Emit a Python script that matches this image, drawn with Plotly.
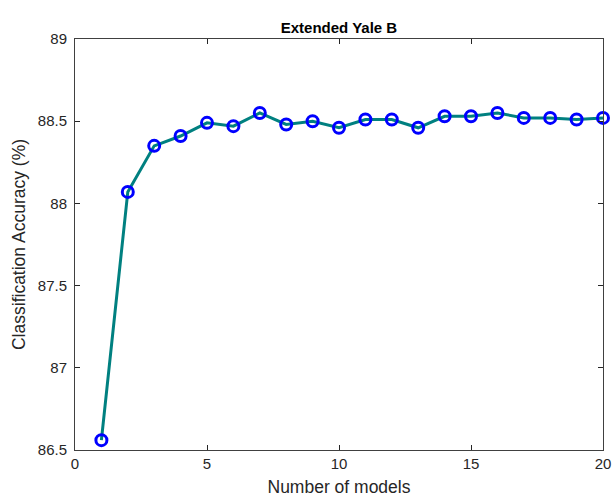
import plotly.graph_objects as go

models = list(range(1, 21))
accuracy = [86.56, 88.07, 88.35, 88.41, 88.49, 88.47, 88.55, 88.48, 88.50, 88.46,
            88.51, 88.51, 88.46, 88.53, 88.53, 88.55, 88.52, 88.52, 88.51, 88.52]
x_ticks = [0, 5, 10, 15, 20]
y_ticks = [86.5, 87, 87.5, 88, 88.5, 89]
y_tick_text = ["86.5", "87", "87.5", "88", "88.5", "89"]

FONT = "Liberation Sans, Arial, sans-serif"

fig = go.Figure()
fig.add_trace(go.Scatter(
    x=models, y=accuracy, mode="lines+markers",
    line=dict(color="#008080", width=3),
    marker=dict(symbol="circle-open", size=11, color="#0000ff", line=dict(width=3, color="#0000ff")),
    showlegend=False, cliponaxis=False,
))

axis_common = dict(
    showgrid=False, zeroline=False, showline=True, linecolor="#404040", linewidth=1,
    mirror="ticks", ticks="inside", ticklen=5, tickcolor="#262626", automargin=False,
    tickfont=dict(family=FONT, size=15, color="#262626"),
)
fig.update_xaxes(range=[0, 20], tickvals=x_ticks,
                 title=dict(text="Number of models", standoff=11,
                            font=dict(family=FONT, size=17.5, color="#262626")),
                 **axis_common)
fig.update_yaxes(range=[86.5, 89], tickvals=y_ticks, ticktext=y_tick_text,
                 ticklabelstandoff=4,
                 title=dict(text="Classification Accuracy (%)", standoff=7,
                            font=dict(family=FONT, size=17.5, color="#262626")),
                 **axis_common)
fig.update_layout(
    width=614, height=497,
    margin=dict(l=75, r=11, t=39, b=47),
    plot_bgcolor="white", paper_bgcolor="white",
    title=dict(text="<b>Extended Yale B</b>", x=0.5, xanchor="center", xref="paper",
               y=1, yref="paper", yanchor="bottom", pad=dict(b=6),
               font=dict(family=FONT, size=15, color="black")),
)
fig.write_html("out.html", config={"displayModeBar": False},
               post_script="document.body.style.margin='0';document.body.style.overflow='hidden';")
